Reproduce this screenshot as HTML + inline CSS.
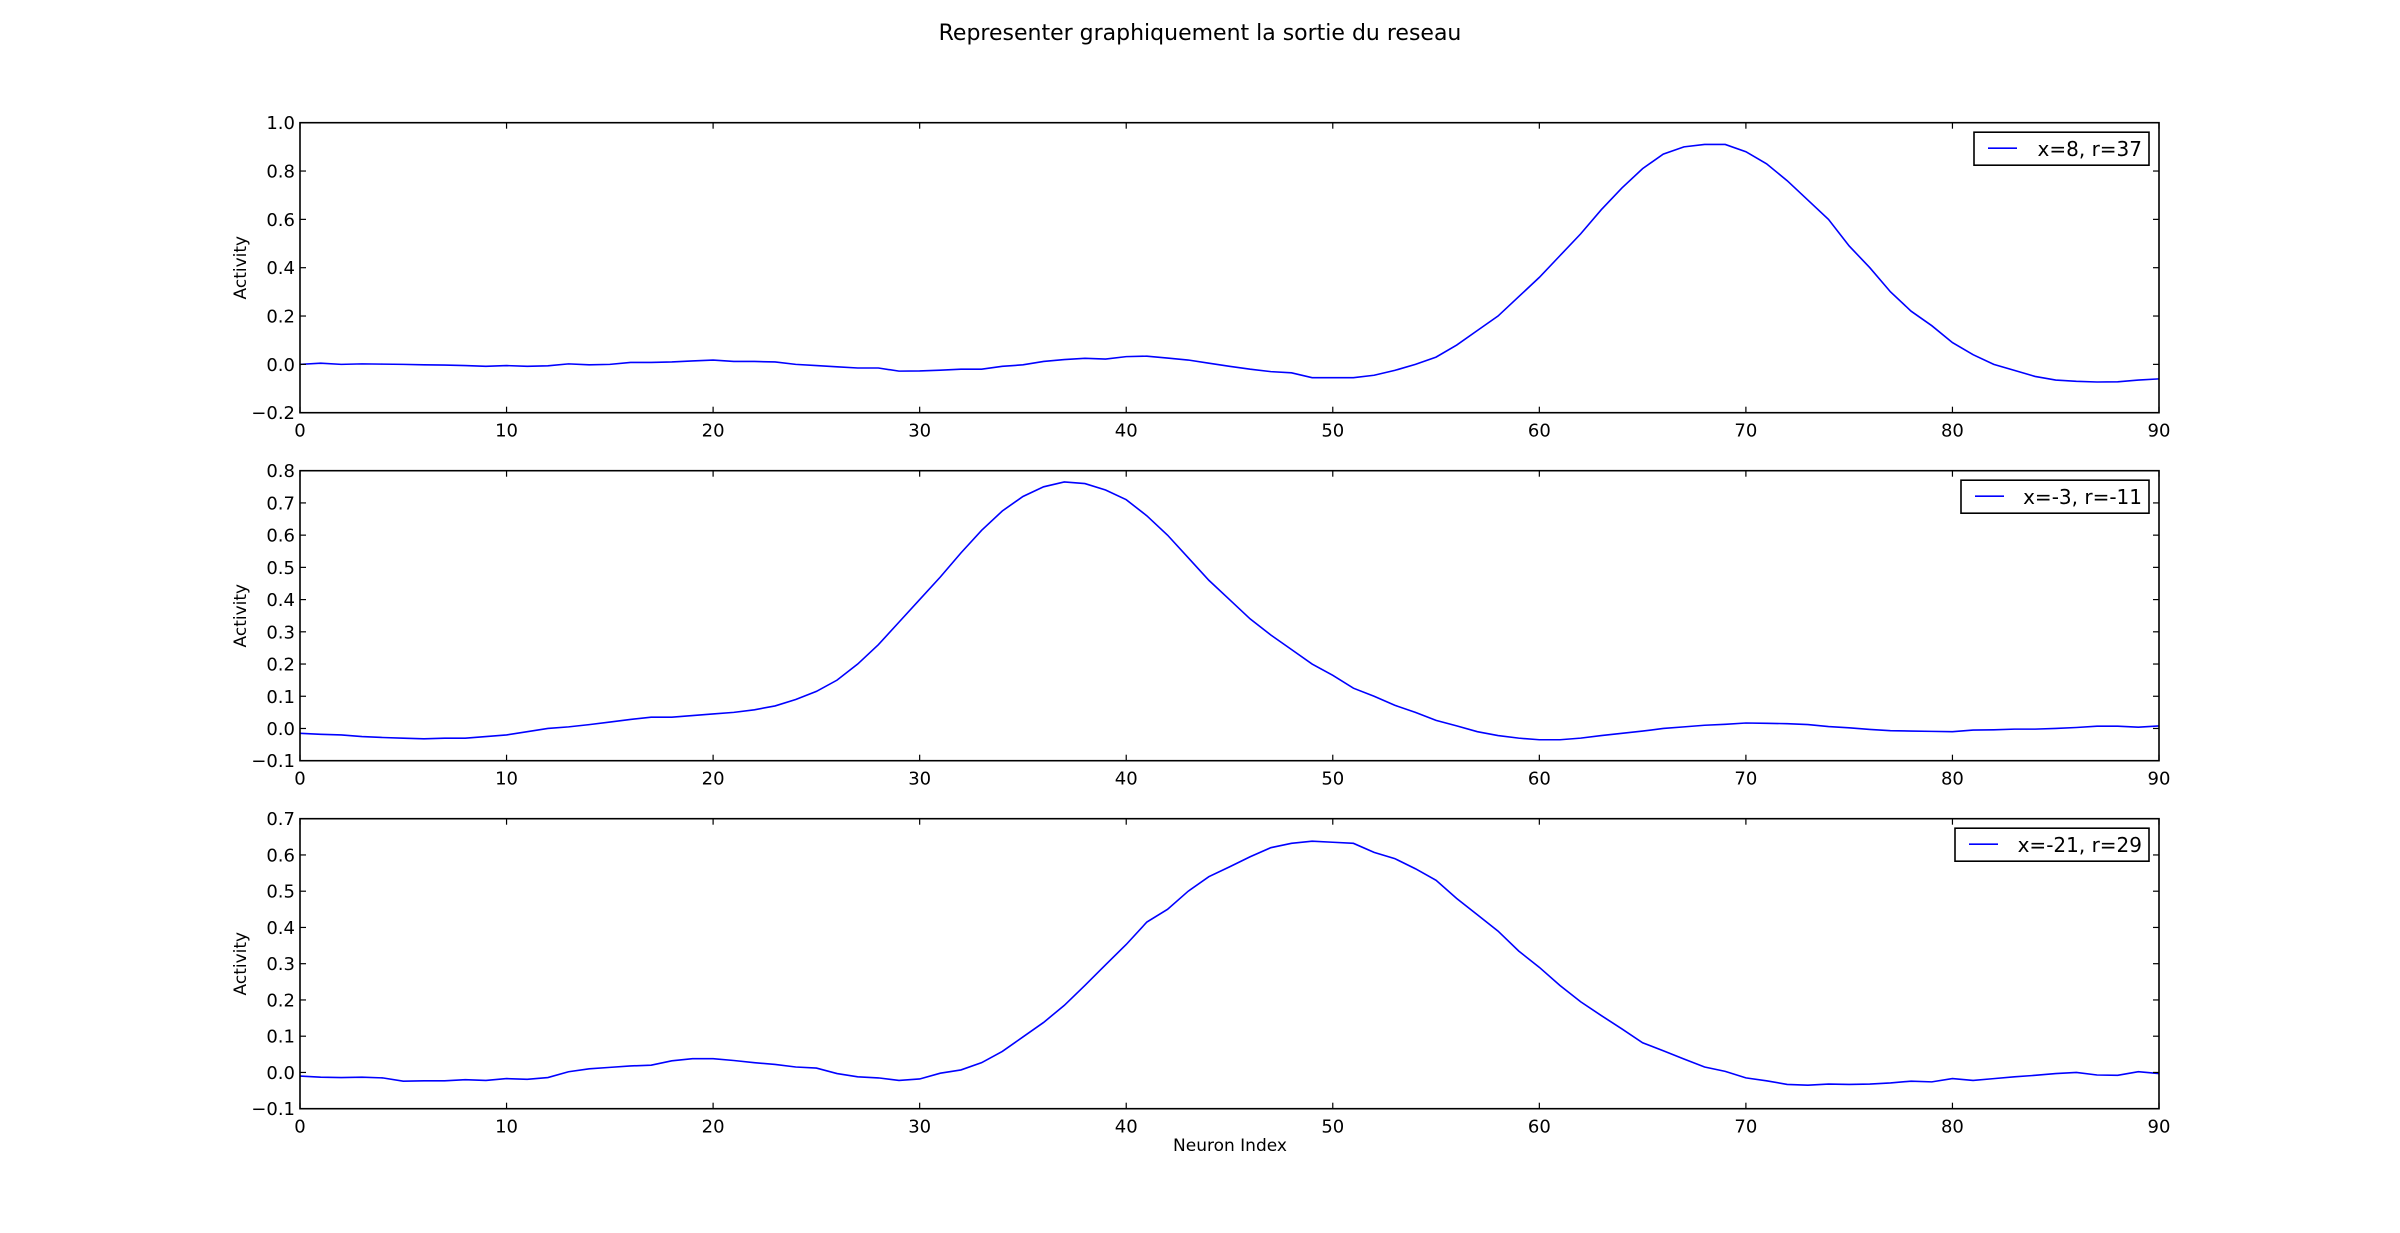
<!DOCTYPE html>
<html><head><meta charset="utf-8"><style>
html,body{margin:0;padding:0;background:#fff;}
svg{display:block;font-family:"DejaVu Sans","Liberation Sans",sans-serif;}
</style></head><body>
<svg id="fig" width="2400" height="1233" viewBox="0 0 2400 1233" xmlns="http://www.w3.org/2000/svg">
<rect width="2400" height="1233" fill="#fff"/>
<text x="1200" y="40" font-size="22" text-anchor="middle">Representer graphiquement la sortie du reseau</text>
<text x="1230" y="1151" font-size="17" text-anchor="middle">Neuron Index</text>
</svg>
<script>
const xTicks = [0,10,20,30,40,50,60,70,80,90];
const series1 = [0,0.005,0,0.002,0.001,0,-0.002,-0.003,-0.005,-0.008,-0.005,
-0.008,-0.006,0.002,-0.002,0,0.008,0.008,0.01,0.014,0.018,
0.012,0.012,0.01,0,-0.005,-0.01,-0.015,-0.015,-0.028,-0.027,
-0.024,-0.02,-0.02,-0.008,-0.002,0.012,0.02,0.025,0.022,0.032,
0.034,0.026,0.018,0.005,-0.008,-0.02,-0.03,-0.035,-0.055,-0.055,
-0.055,-0.045,-0.025,0,0.03,0.08,0.14,0.2,0.28,0.36,
0.45,0.54,0.64,0.73,0.81,0.87,0.9,0.91,0.91,0.88,
0.83,0.76,0.68,0.6,0.49,0.4,0.3,0.22,0.16,0.09,
0.04,0,-0.025,-0.05,-0.065,-0.07,-0.073,-0.072,-0.065,-0.06];
const series2 = [-0.015,-0.018,-0.02,-0.025,-0.028,-0.03,-0.032,-0.03,-0.03,-0.025,-0.02,
-0.01,0,0.005,0.012,0.02,0.028,0.035,0.035,0.04,0.045,
0.05,0.058,0.07,0.09,0.115,0.15,0.2,0.26,0.33,0.4,
0.47,0.545,0.615,0.675,0.72,0.75,0.765,0.76,0.74,0.71,
0.66,0.6,0.53,0.46,0.4,0.34,0.29,0.245,0.2,0.165,
0.125,0.1,0.072,0.05,0.025,0.008,-0.01,-0.022,-0.03,-0.035,
-0.035,-0.03,-0.022,-0.015,-0.008,0,0.005,0.01,0.013,0.017,
0.016,0.015,0.012,0.006,0.002,-0.003,-0.007,-0.008,-0.009,-0.01,
-0.005,-0.004,-0.002,-0.002,0,0.003,0.007,0.007,0.004,0.008];
const series3 = [-0.01,-0.013,-0.014,-0.013,-0.015,-0.024,-0.023,-0.023,-0.02,-0.022,-0.017,
-0.019,-0.014,0.002,0.01,0.014,0.018,0.02,0.032,0.038,0.038,
0.033,0.027,0.022,0.015,0.012,-0.003,-0.012,-0.015,-0.022,-0.018,
-0.002,0.007,0.027,0.058,0.098,0.138,0.185,0.24,0.297,0.353,
0.415,0.45,0.5,0.54,0.567,0.595,0.62,0.632,0.638,0.635,
0.632,0.607,0.59,0.562,0.53,0.48,0.435,0.39,0.335,0.29,
0.24,0.195,0.157,0.12,0.082,0.06,0.037,0.015,0.003,-0.015,
-0.023,-0.033,-0.035,-0.032,-0.033,-0.032,-0.029,-0.024,-0.026,-0.017,
-0.022,-0.017,-0.012,-0.008,-0.003,0,-0.007,-0.008,0.002,-0.003];
const yTicks1 = ["−0.2","0.0","0.2","0.4","0.6","0.8","1.0"];
const yTicks2 = ["−0.1","0.0","0.1","0.2","0.3","0.4","0.5","0.6","0.7","0.8"];
const yTicks3 = ["−0.1","0.0","0.1","0.2","0.3","0.4","0.5","0.6","0.7"];
const labels = ["x=8, r=37","x=-3, r=-11","x=-21, r=29"];

const NS="http://www.w3.org/2000/svg";
const svg=document.getElementById('fig');
function mk(tag,attrs,parent){const e=document.createElementNS(NS,tag);for(const k in attrs)e.setAttribute(k,attrs[k]);(parent||svg).appendChild(e);return e;}
const L=300,R=2159;
const panels=[
 {top:122.7,bot:412.7,ymin:-0.2,ymax:1.0,ticks:yTicks1,data:series1,lab:labels[0],lw:175},
 {top:470.7,bot:760.7,ymin:-0.1,ymax:0.8,ticks:yTicks2,data:series2,lab:labels[1],lw:188},
 {top:818.7,bot:1108.7,ymin:-0.1,ymax:0.7,ticks:yTicks3,data:series3,lab:labels[2],lw:194}];
panels.forEach((p,i)=>{
 const g=mk('g',{});
 
 
 const xs=v=>L+(R-L)*v/90;
 const ys=v=>p.bot-(p.bot-p.top)*(v-p.ymin)/(p.ymax-p.ymin);
 let d='';
 p.data.forEach((v,j)=>{d+=(j?'L':'M')+xs(j).toFixed(2)+' '+ys(v).toFixed(2);});
 const line=mk('path',{d:d,fill:'none',stroke:'#0000ff','stroke-width':1.6},g);
 
 
 const fr=mk('rect',{x:L,y:p.top,width:R-L,height:p.bot-p.top,fill:'none',stroke:'#000','stroke-width':1.6},g);
 
 
 xTicks.forEach(t=>{
  const x=xs(t);
  mk('line',{x1:x,x2:x,y1:p.bot,y2:p.bot-6,stroke:'#000','stroke-width':1.2},g);
  mk('line',{x1:x,x2:x,y1:p.top,y2:p.top+6,stroke:'#000','stroke-width':1.2},g);
  const tx=mk('text',{x:x,y:p.bot+24,'font-size':18,'text-anchor':'middle'},g);
  tx.textContent=t;
  
  
 });
 const n=p.ticks.length;
 p.ticks.forEach((t,k)=>{
  const y=p.bot-(p.bot-p.top)*k/(n-1);
  mk('line',{x1:L,x2:L+6,y1:y,y2:y,stroke:'#000','stroke-width':1.2},g);
  mk('line',{x1:R,x2:R-6,y1:y,y2:y,stroke:'#000','stroke-width':1.2},g);
  const tx=mk('text',{x:L-5,y:y+6.5,'font-size':18,'text-anchor':'end'},g);
  tx.textContent=t;
  
  
 });
 const yc=(p.top+p.bot)/2;
 const yl=mk('text',{x:0,y:0,'font-size':17,'text-anchor':'middle',transform:'translate(246,'+yc+') rotate(-90)'},g);
 yl.textContent='Activity';
 
 
 const lg=mk('g',{},g);
 
 
 const lx=2149-p.lw, ly=p.top+9.5;
 mk('rect',{x:lx,y:ly,width:p.lw,height:33,fill:'#fff',stroke:'#000','stroke-width':1.6},lg);
 mk('line',{x1:lx+14,x2:lx+43,y1:ly+16,y2:ly+16,stroke:'#0000ff','stroke-width':1.6},lg);
 const lt=mk('text',{x:lx+p.lw-7,y:ly+24,'font-size':20,'text-anchor':'end'},lg);
 lt.textContent=p.lab;
 
 
});
</script>
</body></html>
